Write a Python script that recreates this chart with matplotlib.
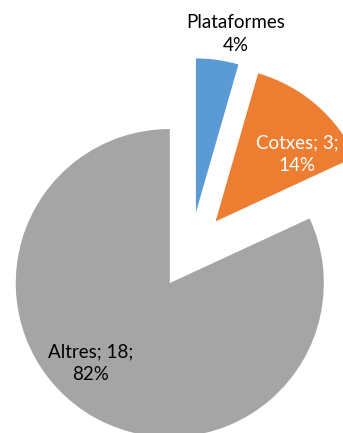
import matplotlib
matplotlib.use("Agg")
import matplotlib.pyplot as plt

# Data
categories = ["Plataformes", "Cotxes", "Altres"]
values = [0.98, 3, 18]
show_value = [False, True, True]

# Style
colors = ["#5B9BD5", "#ED7D31", "#A5A5A5"]
text_colors = ["#000000", "#FFFFFF", "#000000"]
explode = [0.25, 0.25, 0.25]
# label position relative to each wedge's own centre, in radius units
label_offsets = [(0.26, 1.16), (0.53, 0.435), (-0.513, -0.519)]

plt.rcParams["font.family"] = ["Lato", "DejaVu Sans"]

fig = plt.figure(figsize=(3.43, 4.33), dpi=100)
ax = fig.add_axes([0, 0, 1, 1])

wedges, _ = ax.pie(values, colors=colors, explode=explode, startangle=90,
                   counterclock=False, radius=1.0, center=(0, 0),
                   wedgeprops=dict(linewidth=0))

total = sum(values)
for w, cat, v, sv, tc, off in zip(wedges, categories, values, show_value,
                                   text_colors, label_offsets):
    pct = round(v / total * 100)
    if sv:
        txt = f"{cat}; {v:g};\n{pct}%"
    else:
        txt = f"{cat}\n{pct}%"
    cx, cy = w.center
    ax.text(cx + off[0], cy + off[1], txt, ha="center", va="center",
            color=tc, fontsize=13.5, linespacing=1.4)

ax.set_xlim(-1.237, 0.990)
ax.set_ylim(-1.184, 1.627)
ax.set_aspect("auto")
ax.axis("off")

fig.savefig("out.png", dpi=100)
